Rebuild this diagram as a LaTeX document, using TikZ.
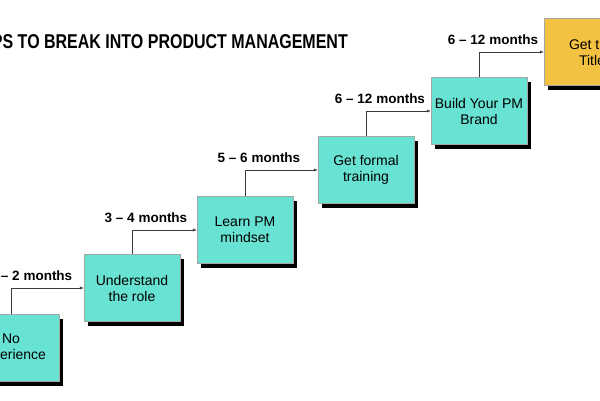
\documentclass[tikz,border=0pt]{standalone}
\usepackage{fontspec}
\setmainfont{Liberation Sans}
\usetikzlibrary{shadows,arrows.meta}
\definecolor{StepTeal}{HTML}{68E2D2}
\definecolor{StepGold}{HTML}{F4C242}
\definecolor{StepLine}{HTML}{3A3A3A}

\tikzset{
  stepbox/.style={draw=gray!70,fill=StepTeal,minimum width=96pt,minimum height=67pt,
    align=center,font=\fontsize{14}{16}\selectfont,
    drop shadow={shadow xshift=4pt,shadow yshift=-4pt,opacity=1,fill=black}},
  link/.style={draw=StepLine,-{Latex[length=4pt,width=3pt]}},
  months/.style={above=4pt,xshift=14pt,font=\fontsize{13.5}{15}\selectfont\bfseries}
}

\begin{document}
\begin{tikzpicture}[x=1pt,y=-1pt]
  \useasboundingbox (0,0) rectangle (600,400);
  \clip (0,0) rectangle (600,400);

  % Title
  \node[anchor=east,font=\fontsize{20}{22}\selectfont\bfseries,xscale=0.8,inner sep=0pt] (title) at (348,42)
    {6 STEPS TO BREAK INTO PRODUCT MANAGEMENT};

  % Steps
  \node[stepbox] (noexp) at (11,348) {No\\Experience};
  \node[stepbox] (role) at (132,288) {Understand\\the role};
  \node[stepbox] (mindset) at (245,230) {Learn PM\\mindset};
  \node[stepbox] (training) at (366,170) {Get formal\\training};
  \node[stepbox] (brand) at (479,111) {Build Your PM\\Brand};
  \node[stepbox,fill=StepGold] (title6) at (592,52) {Get the\\Title};

  % Links
  \draw[link] (noexp.north) |- node[months,xshift=6pt]{1 -- 2 months} (role.west);
  \draw[link] (role.north) |- node[months]{3 -- 4 months} (mindset.west);
  \draw[link] (mindset.north) |- node[months]{5 -- 6 months} (training.west);
  \draw[link] (training.north) |- node[months]{6 -- 12 months} (brand.west);
  \draw[link] (brand.north) |- node[months]{6 -- 12 months} (title6.west);
\end{tikzpicture}
\end{document}
